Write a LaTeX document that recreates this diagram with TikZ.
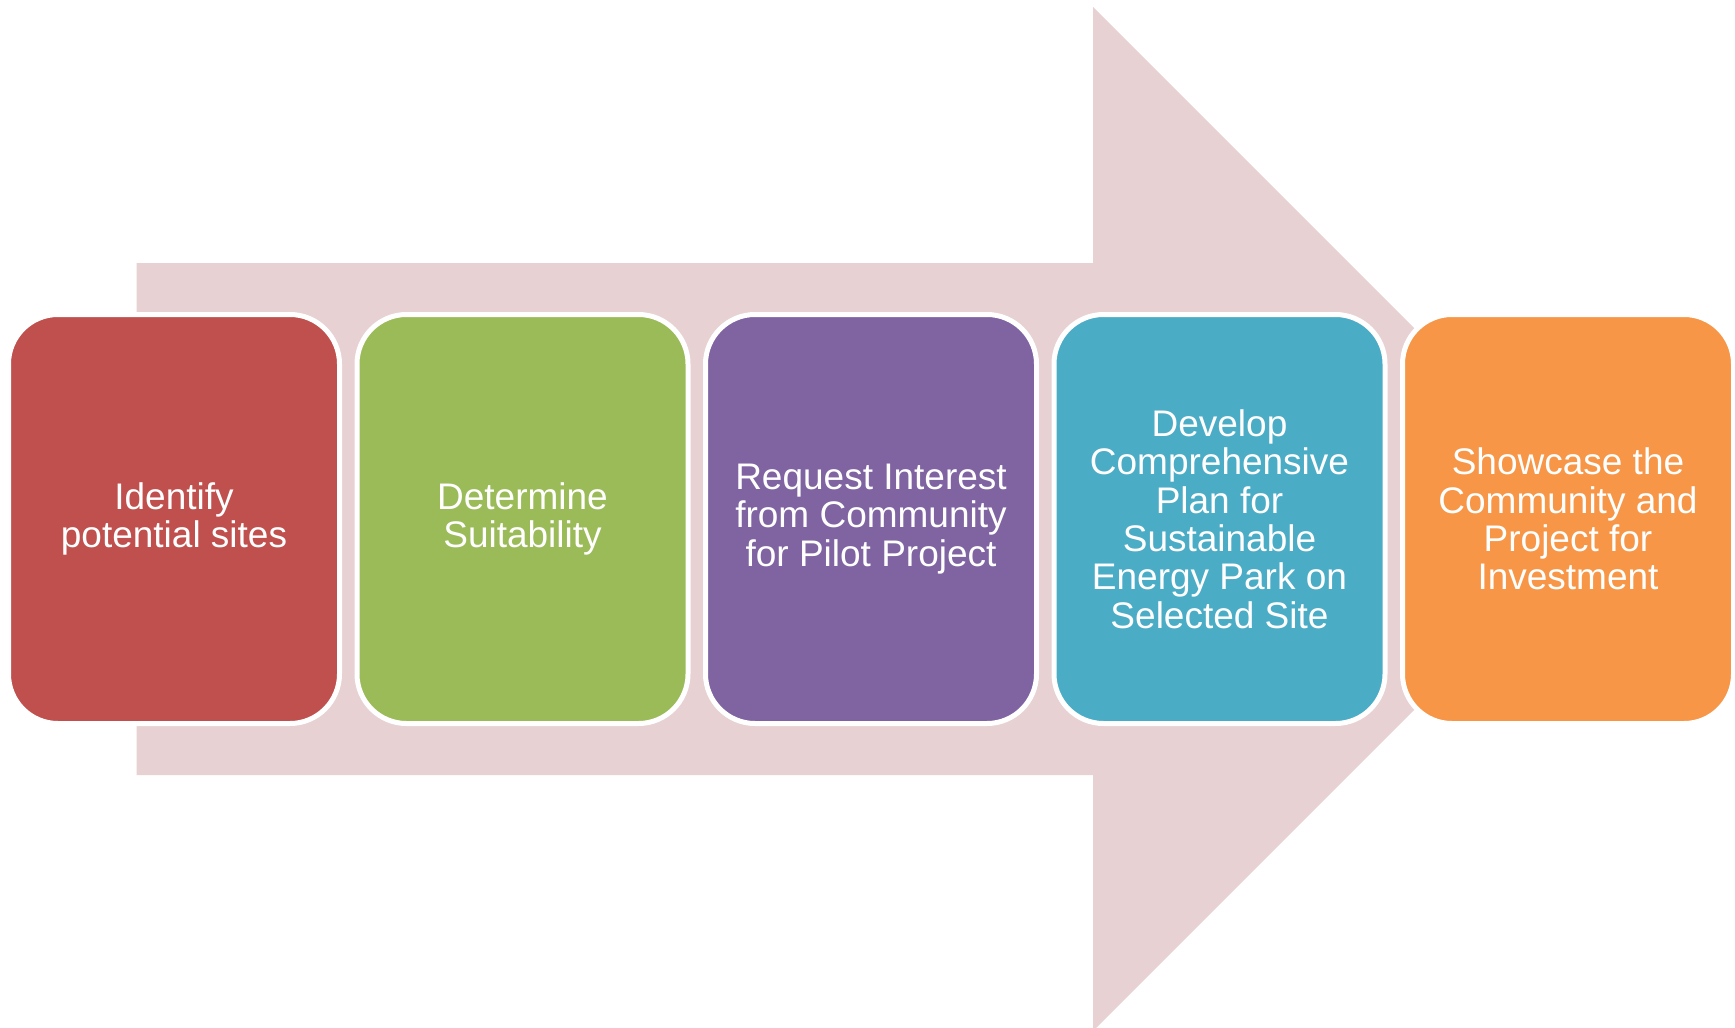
\documentclass[tikz,border=0pt]{standalone}
\usepackage{fontspec}
\setmainfont{Liberation Sans}
\usepackage{tikz}
\usetikzlibrary{positioning}
\definecolor{arrowpink}{HTML}{E7D1D2}
\definecolor{stepred}{HTML}{C0504D}
\definecolor{stepgreen}{HTML}{9BBB59}
\definecolor{steppurple}{HTML}{8064A2}
\definecolor{stepteal}{HTML}{4BACC6}
\definecolor{steporange}{HTML}{F79646}
\tikzset{
  stepbox/.style={rectangle, rounded corners=24.75pt, draw=white, line width=2.5pt,
    minimum width=165.5pt, minimum height=204.5pt, text=white, align=center,
    inner sep=0pt, font=\fontsize{18.5pt}{19.2pt}\selectfont}
}

\begin{document}
\begin{tikzpicture}[x=0.5pt,y=-0.5pt,node distance=6.25pt]
  \useasboundingbox (0,0) rectangle (1735,1028);
  % big arrow behind the steps
  \fill[arrowpink] (136.7,263) -- (1093,263) -- (1093,7) -- (1605,519)
    -- (1093,1031) -- (1093,775) -- (136.7,775) -- cycle;
  \node[stepbox,fill=stepred] (s1) at (174,519) {Identify\\potential sites};
  \node[stepbox,fill=stepgreen,right=of s1] (s2) {Determine\\Suitability};
  \node[stepbox,fill=steppurple,right=of s2] (s3) {Request Interest\\from Community\\for Pilot Project};
  \node[stepbox,fill=stepteal,right=of s3] (s4) {Develop\\Comprehensive\\Plan for\\Sustainable\\Energy Park on\\Selected Site};
  \node[stepbox,fill=steporange,right=of s4] (s5) {Showcase the\\Community and\\Project for\\Investment};
\end{tikzpicture}
\end{document}
